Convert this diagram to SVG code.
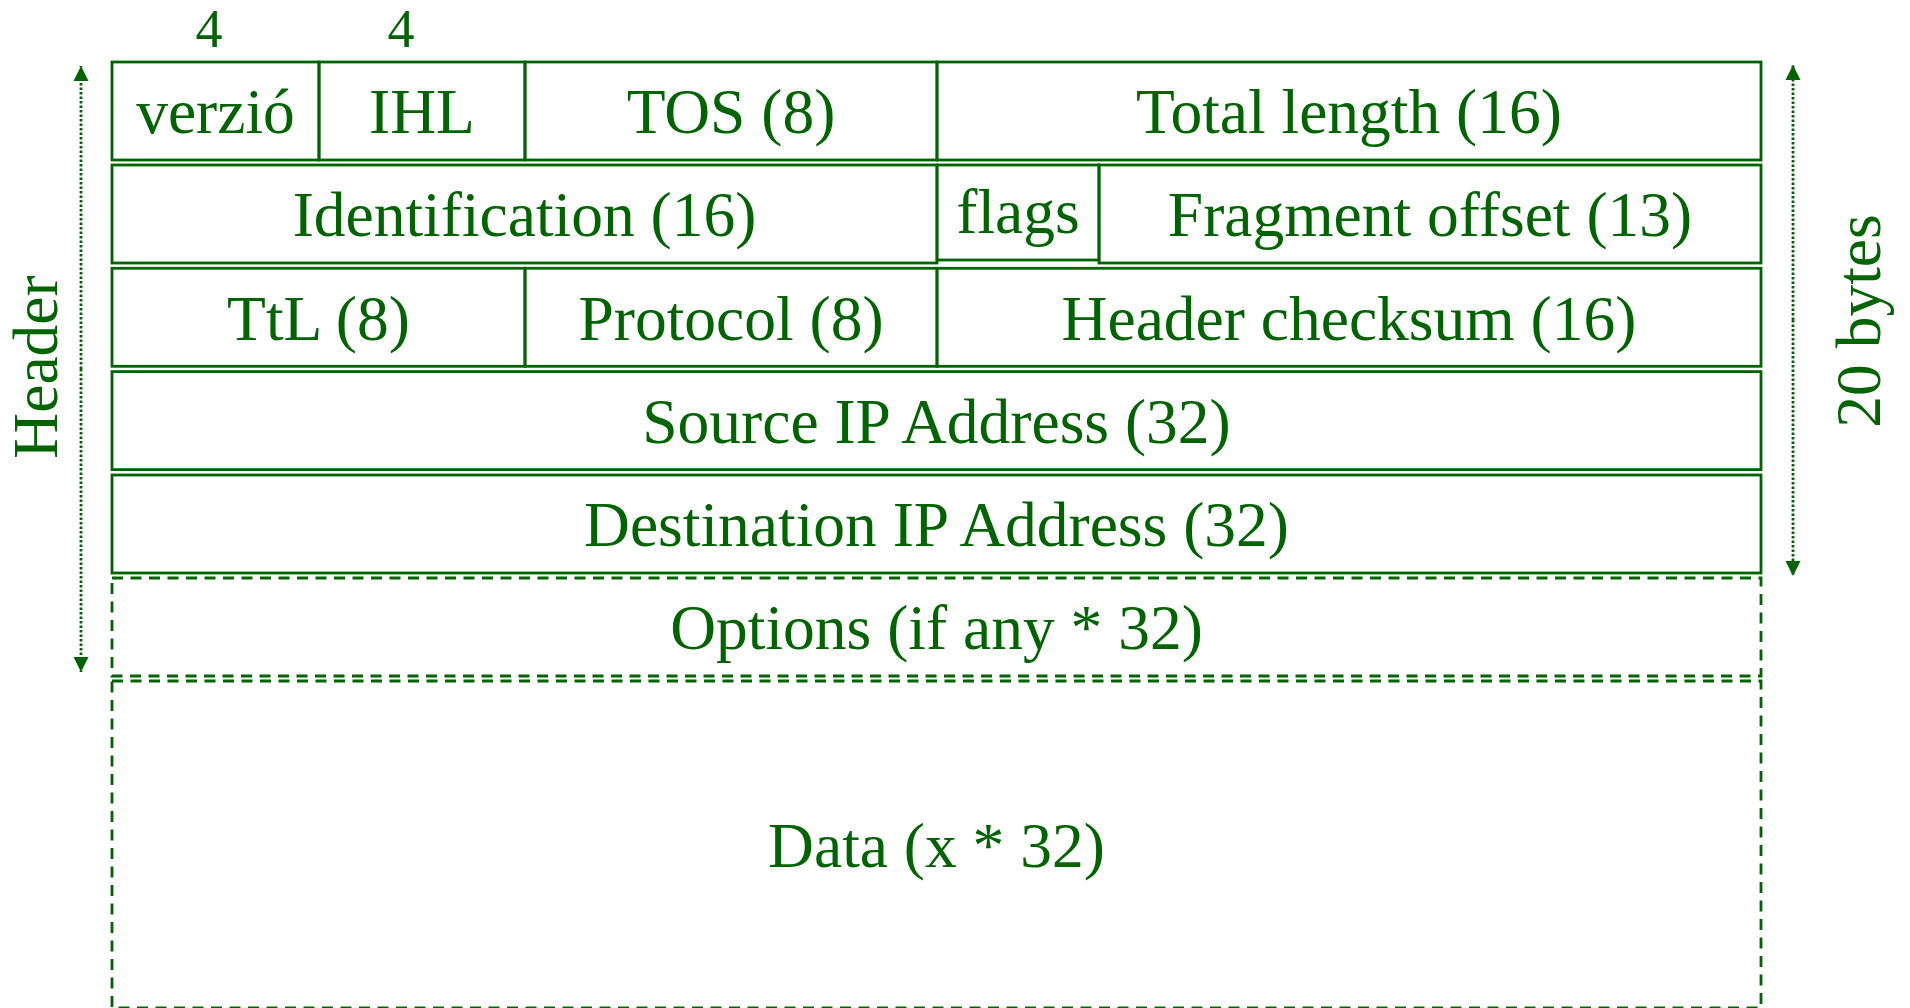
<svg xmlns="http://www.w3.org/2000/svg" width="1910" height="1008" viewBox="0 0 1910 1008">
<defs>
<style>
.cell{fill:none;stroke:#006400;stroke-width:2.8}
.dash{fill:none;stroke:#006400;stroke-width:2.8;stroke-dasharray:11 7.5}
.lbl{font-family:"Liberation Serif","Times New Roman",serif;font-size:63.5px;fill:#006400;text-anchor:middle}
.small{font-size:54px}
.dot{fill:none;stroke:#006400;stroke-width:2.8;stroke-dasharray:2.5 2}
</style>
<marker id="ah" markerUnits="userSpaceOnUse" markerWidth="16" markerHeight="16" viewBox="0 0 16 16" refX="15" refY="8" orient="auto">
<path d="M0,0.5 L15,8 L0,15.5 Z" fill="#006400"/>
</marker>
</defs>
<rect width="1910" height="1008" fill="#ffffff"/>
<g id="bits">
<text class="lbl small" x="209" y="47">4</text>
<text class="lbl small" x="401" y="47">4</text>
</g>
<g id="row1">
<g id="verzio"><rect class="cell" x="112" y="62" width="207" height="98"/><text class="lbl" x="215.5" y="133">verzió</text></g>
<g id="ihl"><rect class="cell" x="319" y="62" width="206" height="98"/><text class="lbl" x="422" y="133">IHL</text></g>
<g id="tos"><rect class="cell" x="525" y="62" width="412" height="98"/><text class="lbl" x="731" y="133">TOS (8)</text></g>
<g id="totlen"><rect class="cell" x="937" y="62" width="824" height="98"/><text class="lbl" x="1349" y="133">Total length (16)</text></g>
</g>
<g id="row2">
<g id="ident"><rect class="cell" x="112" y="165" width="825" height="98"/><text class="lbl" x="524.5" y="236">Identification (16)</text></g>
<g id="flags"><rect class="cell" x="937" y="165" width="162" height="95"/><text class="lbl" x="1018" y="233">flags</text></g>
<g id="fragoff"><rect class="cell" x="1099" y="165" width="662" height="98"/><text class="lbl" x="1430" y="236">Fragment offset (13)</text></g>
</g>
<g id="row3">
<g id="ttl"><rect class="cell" x="112" y="268.3" width="413" height="98"/><text class="lbl" x="318.5" y="339.5">TtL (8)</text></g>
<g id="proto"><rect class="cell" x="525" y="268.3" width="412" height="98"/><text class="lbl" x="731" y="339.5">Protocol (8)</text></g>
<g id="chksum"><rect class="cell" x="937" y="268.3" width="824" height="98"/><text class="lbl" x="1349" y="339.5">Header checksum (16)</text></g>
</g>
<g id="src"><rect class="cell" x="112" y="371.6" width="1649" height="98"/><text class="lbl" x="936.5" y="442.8">Source IP Address (32)</text></g>
<g id="dst"><rect class="cell" x="112" y="475" width="1649" height="98"/><text class="lbl" x="936.5" y="546">Destination IP Address (32)</text></g>
<g id="options"><rect class="dash" x="112" y="578" width="1649" height="98"/><text class="lbl" x="936.5" y="649">Options (if any * 32)</text></g>
<g id="data"><rect class="dash" x="112" y="681" width="1649" height="327"/><text class="lbl" x="936.5" y="867">Data (x * 32)</text></g>
<g id="header-label"><text class="lbl" transform="translate(57,367) rotate(-90)">Header</text></g>
<g id="bytes-label"><text class="lbl" transform="translate(1880,321) rotate(-90)">20 bytes</text></g>
<g id="connectors">
<line class="dot" x1="81" y1="369" x2="81" y2="66" marker-end="url(#ah)"/>
<line class="dot" x1="81" y1="369" x2="81" y2="672" marker-end="url(#ah)"/>
<line class="dot" x1="1793" y1="320" x2="1793" y2="65" marker-end="url(#ah)"/>
<line class="dot" x1="1793" y1="320" x2="1793" y2="576" marker-end="url(#ah)"/>
</g>
</svg>
